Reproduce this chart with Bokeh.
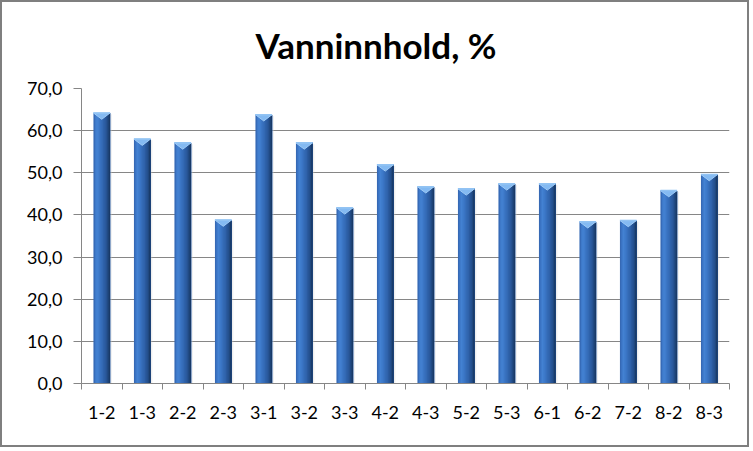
import numpy as np
from bokeh.plotting import figure
from bokeh.models import Range1d, LinearAxis, FixedTicker, Title
from bokeh.embed import file_html
from bokeh.resources import INLINE

# ---- data ----
categories = ["1-2", "1-3", "2-2", "2-3", "3-1", "3-2", "3-3", "4-2",
              "4-3", "5-2", "5-3", "6-1", "6-2", "7-2", "8-2", "8-3"]
values = [64.2, 58.0, 57.1, 38.8, 63.8, 57.1, 41.7, 51.9,
          46.7, 46.2, 47.4, 47.4, 38.4, 38.7, 45.8, 49.6]
y_ticks = [0, 10, 20, 30, 40, 50, 60, 70]
y_tick_labels = ["0,0", "10,0", "20,0", "30,0", "40,0", "50,0", "60,0", "70,0"]
title_text = "Vanninnhold, %"

FONT = "Lato"
GRID = "#868686"

n = len(categories)
xc = np.arange(n) + 0.5
vals = np.array(values)

p = figure(width=749, height=447, output_backend="svg", toolbar_location=None,
           x_range=Range1d(0, n), y_range=Range1d(0, 70),
           min_border_left=79, min_border_right=22, min_border_top=86,
           min_border_bottom=66, x_axis_location=None, y_axis_location=None,
           styles={"border": "2px solid #7f7f7f"})
p.outline_line_color = None
p.background_fill_color = "white"
p.border_fill_color = "white"

# title
p.title = Title(text=title_text, align="left", offset=174, standoff=42,
                vertical_align="top", text_font=FONT, text_font_style="bold",
                text_font_size="35px", text_color="black")

# grid
p.xgrid.visible = False
p.ygrid.ticker = FixedTicker(ticks=y_ticks)
p.ygrid.grid_line_color = GRID
p.ygrid.grid_line_width = 1

# shadow
p.quad(left=xc - 0.19, right=xc + 0.25, top=vals - 0.3, bottom=0,
       fill_color="#d0d0d0", fill_alpha=0.35, line_color=None)

# bars as overlapping gradient bands (left -> right)
w = 0.41
stripe_colors = ["#3669b5", "#3e79c9", "#4381d2", "#407dcd", "#3b76c5", "#376fbc",
                 "#3369b3", "#2f62aa", "#2b5b9f", "#265392", "#20487f", "#193a68"]
k = len(stripe_colors)
sw = w / k
for i, c in enumerate(stripe_colors):
    p.quad(left=xc - w / 2 + sw * i, right=xc + w / 2, top=vals, bottom=0,
           fill_color=c, line_color=None)

# top bevel triangles
d = 1.5
tri_xs = [[x - w / 2, x + w / 2, x] for x in xc]
tri_ys = [[v, v, v - d] for v in vals]
p.patches(tri_xs, tri_ys, fill_color="#84baf2", line_color="#a0ccf7", line_width=1)
p.segment(x0=xc - w / 2, y0=vals, x1=xc + w / 2, y1=vals,
          line_color="#92c3f3", line_width=1.5)

# y axis
yax = LinearAxis(ticker=FixedTicker(ticks=y_ticks),
                 major_label_overrides={t: l for t, l in zip(y_ticks, y_tick_labels)})
yax.axis_line_color = GRID
yax.major_tick_line_color = GRID
yax.major_tick_out = 8
yax.major_tick_in = 0
yax.minor_tick_line_color = None
yax.major_label_standoff = 11
yax.major_label_text_font = FONT
yax.major_label_text_font_size = "18px"
yax.major_label_text_color = "black"
p.add_layout(yax, "left")

# x axis: ticks at category boundaries
xax = LinearAxis(ticker=FixedTicker(ticks=list(range(n + 1))),
                 major_label_overrides={i: "" for i in range(n + 1)})
xax.axis_line_color = GRID
xax.major_tick_line_color = GRID
xax.major_tick_out = 6
xax.major_tick_in = 0
xax.minor_tick_line_color = None
xax.major_label_text_font_size = "1px"
xax.major_label_standoff = 0
p.add_layout(xax, "below")

# x axis: category labels at bar centres
cax = LinearAxis(ticker=FixedTicker(ticks=[float(x) for x in xc]),
                 major_label_overrides={float(x): c for x, c in zip(xc, categories)})
cax.axis_line_color = None
cax.major_tick_line_color = None
cax.major_tick_out = 0
cax.major_tick_in = 0
cax.minor_tick_line_color = None
cax.major_label_standoff = 16
cax.major_label_text_font = FONT
cax.major_label_text_font_size = "18px"
cax.major_label_text_color = "black"
p.add_layout(cax, "below")

open("out.html", "w").write(file_html(p, INLINE))
